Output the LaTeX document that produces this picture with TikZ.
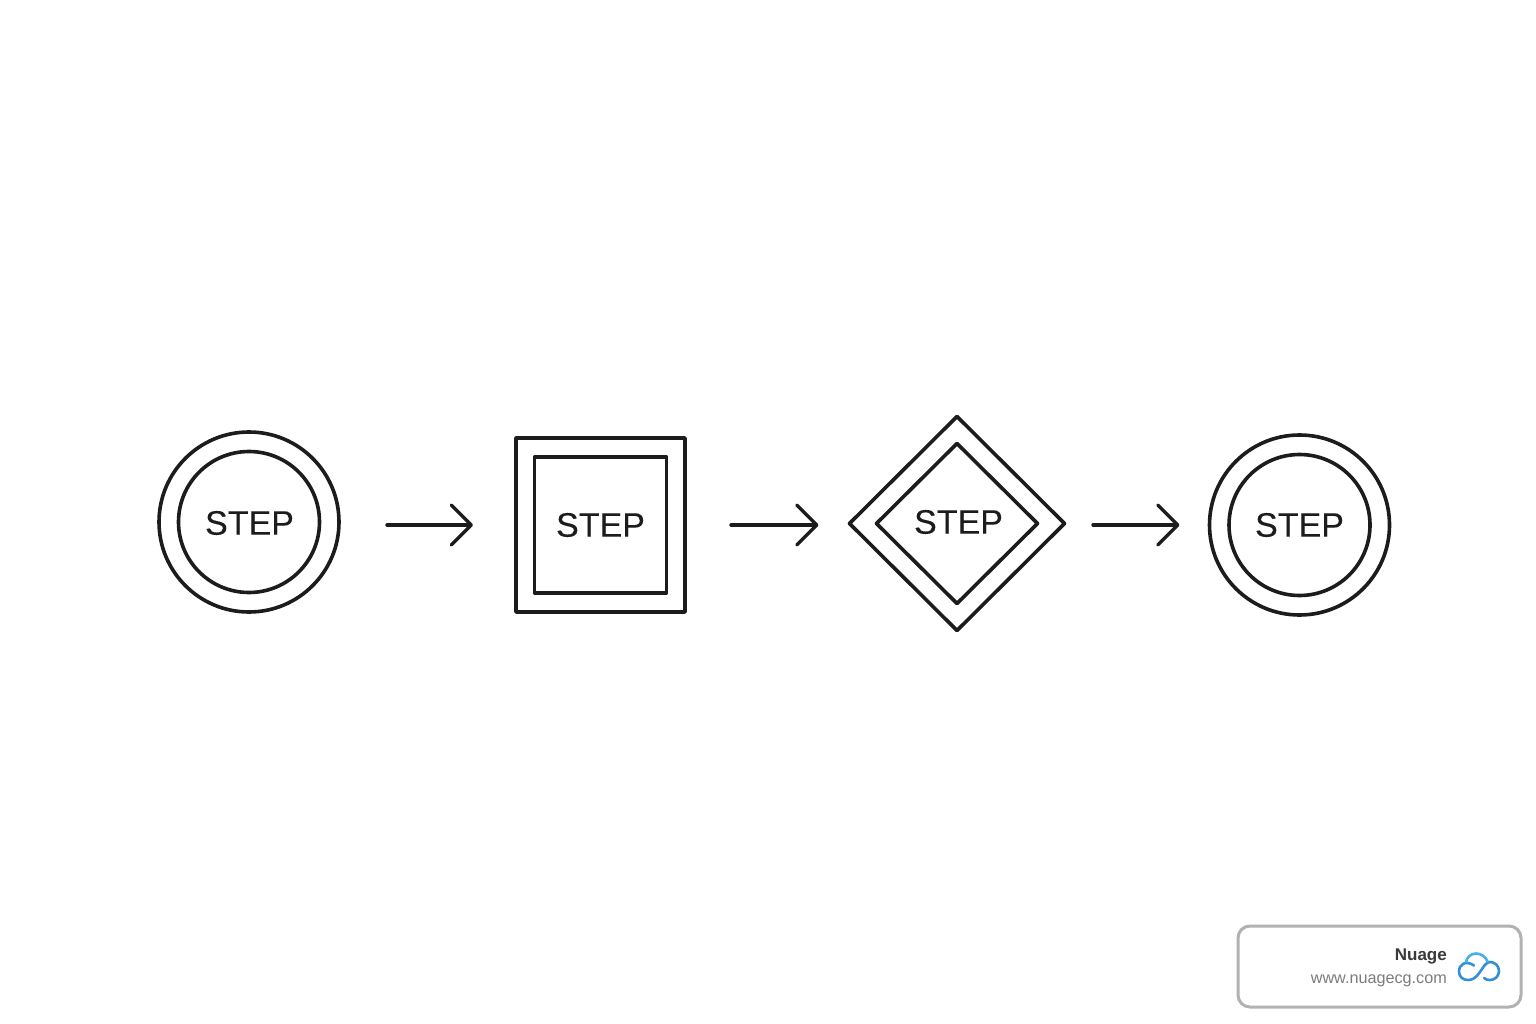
\documentclass[tikz,border=0pt]{standalone}
\usepackage{fontspec}
\setmainfont{Liberation Sans}
\usetikzlibrary{shapes.geometric,arrows.meta}
\definecolor{ink}{HTML}{1C1C1C}
\definecolor{badge}{HTML}{B2B2B2}
\definecolor{brand}{HTML}{3A3A3A}
\definecolor{urlgray}{HTML}{7C7C7C}
\definecolor{cloudblue}{HTML}{3490D6}
\definecolor{cloudlight}{HTML}{48AEE8}
\tikzset{
  shapeline/.style={draw=ink,line width=3.6pt,inner sep=0pt,outer sep=0pt,text=ink,font=\fontsize{34}{36}\selectfont\addfontfeature{FakeBold=0.12}},
  ringbox/.style={shapeline,circle,minimum size=#1},
  squarebox/.style n args={2}{shapeline,rectangle,minimum width=#1,minimum height=#2,line join=round},
  gembox/.style n args={2}{shapeline,diamond,minimum width=#1,minimum height=#2,line join=round},
  flowarrow/.style={draw=ink,line width=3.4pt,line cap=round,line join=round,
    -{Straight Barb[length=20pt,width=40pt,line width=3.4pt,round]}},
}
\begin{document}
\begin{tikzpicture}[x=1pt,y=-1pt]
\useasboundingbox (0,0) rectangle (1536,1024);
\fill[white] (0,0) rectangle (1536,1024);
% step 1
\node[ringbox=180pt] (c1o) at (249,522) {};
\node[ringbox=141pt] (c1i) at (249,522) {\hspace{1pt}\raisebox{-1pt}[\height][\depth]{STEP}};
% step 2
\node[squarebox={169pt}{174pt}] (s1o) at (600.5,525) {};
\node[squarebox={132pt}{136pt}] (s1i) at (600.5,525) {STEP};
% step 3
\node[gembox={215pt}{214pt}] (d1o) at (957,523.5) {};
\node[gembox={161pt}{160pt}] (d1i) at (957,523.5) {\hspace{3pt}\raisebox{1.5pt}[\height][\depth]{STEP}};
% step 4
\node[ringbox=180pt] (c2o) at (1299.5,525) {};
\node[ringbox=141pt] (c2i) at (1299.5,525) {STEP};
% connectors
\draw[flowarrow,shorten <=48pt,shorten >=43pt] ([yshift=-3pt]c1o.east) -- (s1o.west);
\draw[flowarrow,shorten <=46pt,shorten >=31pt] (s1o.east) -- ([yshift=-1.5pt]d1o.west);
\draw[flowarrow,shorten <=28.5pt,shorten >=30pt] ([yshift=-1.5pt]d1o.east) -- (c2o.west);
% badge
\node[draw=badge,line width=3pt,rounded corners=12pt,minimum width=283pt,minimum height=81pt,inner sep=0pt,outer sep=0pt] (badgebox) at (1379.5,966.5) {};
\node[anchor=base east,inner sep=0pt,text=brand,font=\fontsize{17}{20}\selectfont\bfseries] (brandname) at (1447,960) {Nuage};
\node[anchor=base east,inner sep=0pt,text=urlgray,font=\fontsize{16.2}{18}\selectfont] (brandurl) at (1447,983) {www.nuagecg.com};
\draw[cloudblue,line width=2.6pt,line cap=round,line join=round]
  (1474,965.5) .. controls (1466,960) and (1459,964) .. (1459,971.5)
  .. controls (1459,977) and (1463,980) .. (1468,980)
  .. controls (1476,980) and (1479,973) .. (1482,969)
  .. controls (1485,964) and (1488,962) .. (1490,962)
  .. controls (1495,962) and (1499,966) .. (1499,971)
  .. controls (1499,977) and (1494,980) .. (1490,980)
  .. controls (1488,980) and (1485,979.5) .. (1484,978);
\draw[cloudlight,line width=2.6pt,line cap=round]
  (1466,962) .. controls (1467,957) and (1471,953.5) .. (1476,953.5)
  .. controls (1481,953.5) and (1486,957) .. (1487.5,961.5);
\end{tikzpicture}
\end{document}
